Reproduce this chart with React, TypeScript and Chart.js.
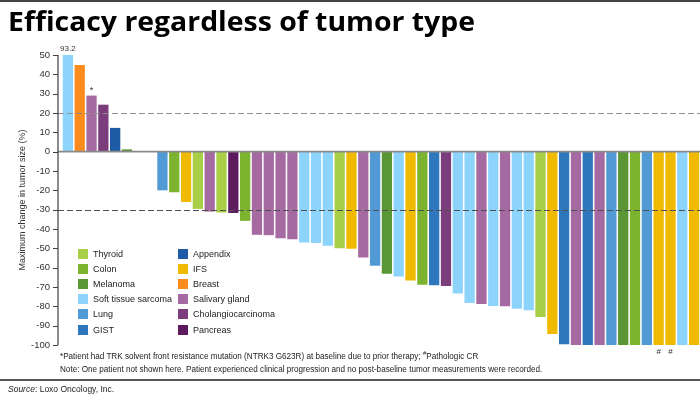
import React, { useEffect, useRef } from 'react';
import { Chart, registerables } from 'chart.js';

Chart.register(...registerables);

// ---- Data ----
const tumorTypes = [
  'Thyroid', 'Colon', 'Melanoma', 'Soft tissue sarcoma', 'Lung', 'GIST',
  'Appendix', 'IFS', 'Breast', 'Salivary gland', 'Cholangiocarcinoma', 'Pancreas',
];
const typeColors = [
  '#a8cf45', '#7db42f', '#5b9634', '#8dd4fc', '#519ad5', '#2f77bc',
  '#1d5ba6', '#f0ba00', '#fb8b1c', '#a66aa3', '#7b3d7c', '#5d1a5d',
];

// tumor type of each patient (null = empty slot)
const patientTypes: (string | null)[] = [
  'Soft tissue sarcoma', 'Breast', 'Salivary gland', 'Cholangiocarcinoma', 'Appendix', 'Melanoma',
  null, null,
  'Lung', 'Colon', 'IFS', 'Thyroid', 'Salivary gland', 'Thyroid', 'Pancreas', 'Colon',
  'Salivary gland', 'Salivary gland', 'Salivary gland', 'Salivary gland',
  'Soft tissue sarcoma', 'Soft tissue sarcoma', 'Soft tissue sarcoma', 'Thyroid', 'IFS',
  'Salivary gland', 'Lung', 'Melanoma', 'Soft tissue sarcoma', 'IFS', 'Colon', 'GIST',
  'Cholangiocarcinoma', 'Soft tissue sarcoma', 'Soft tissue sarcoma', 'Salivary gland',
  'Soft tissue sarcoma', 'Salivary gland', 'Soft tissue sarcoma', 'Soft tissue sarcoma',
  'Thyroid', 'IFS', 'GIST', 'Salivary gland', 'GIST', 'Salivary gland', 'Lung', 'Melanoma',
  'Colon', 'Lung', 'IFS', 'IFS', 'Soft tissue sarcoma', 'IFS',
];

// maximum change in tumor size (%)
const changes: (number | null)[] = [
  93.2, 44.8, 29, 24.3, 12.3, 1.2,
  null, null,
  -20, -21, -26, -29.6, -31, -31.5, -31.7, -35.8,
  -43, -43.2, -44.8, -45.3,
  -47, -47.2, -48.6, -50, -50.2,
  -54.8, -59, -63.1, -64.6, -66.7, -68.8, -69.1,
  -69.5, -73.3, -78.3, -78.8,
  -79.8, -80, -81.2, -82,
  -85.5, -94.3, -99.6, -100, -100, -100, -100, -100,
  -100, -100, -100, -100, -100, -100,
];

const yMin = -100;
const yMax = 50;
const yStep = 10;

const refLines = [20, -30];
const refColors = ['#8e8e8e', '#505050'];

const valueLabelIdx = [0];
const markIdx = [2, 50, 51];
const markText = ['*', '#', '#'];

const FONT = '"Liberation Sans", Arial, sans-serif';
const TITLE_WIDTH = 467;

const overlayPlugin = {
  id: 'overlay',
  afterDatasetsDraw(chart: any) {
    const { ctx, chartArea, scales } = chart;
    const y = scales.y;
    const axisX = chartArea.left - 4;
    const meta = chart.getDatasetMeta(0);
    ctx.save();

    // zero line
    const y0 = y.getPixelForValue(0);
    ctx.strokeStyle = '#8a8a8a';
    ctx.lineWidth = 1.6;
    ctx.beginPath();
    ctx.moveTo(axisX, y0);
    ctx.lineTo(chartArea.right, y0);
    ctx.stroke();

    // reference lines
    refLines.forEach((v, i) => {
      const py = Math.round(y.getPixelForValue(v)) + 0.5;
      ctx.strokeStyle = refColors[i];
      ctx.lineWidth = 1.2;
      ctx.setLineDash([6, 3]);
      ctx.beginPath();
      ctx.moveTo(axisX, py);
      ctx.lineTo(chartArea.right, py);
      ctx.stroke();
    });
    ctx.setLineDash([]);

    // y axis line + tick marks
    ctx.strokeStyle = '#404040';
    ctx.lineWidth = 1.2;
    ctx.beginPath();
    ctx.moveTo(axisX, chartArea.top);
    ctx.lineTo(axisX, chartArea.bottom);
    y.ticks.forEach((t: any) => {
      const py = Math.round(y.getPixelForValue(t.value)) + 0.5;
      ctx.moveTo(axisX - 5, py);
      ctx.lineTo(axisX, py);
    });
    ctx.stroke();

    // value labels
    ctx.fillStyle = '#333';
    ctx.textAlign = 'center';
    ctx.font = `8px ${FONT}`;
    valueLabelIdx.forEach((i) => {
      const el = meta.data[i];
      const top = Math.max(el.y, chartArea.top);
      ctx.textBaseline = 'bottom';
      ctx.fillText(String(changes[i]), el.x, top - 2);
    });

    // marks
    markIdx.forEach((i, k) => {
      const el = meta.data[i];
      const v = changes[i] as number;
      if (v >= 0) {
        ctx.font = `9px ${FONT}`;
        ctx.textBaseline = 'bottom';
        ctx.fillText(markText[k], el.x, Math.max(el.y, chartArea.top) - 1);
      } else {
        ctx.font = `8px ${FONT}`;
        ctx.textBaseline = 'top';
        ctx.fillText(markText[k], el.x, Math.min(el.y, chartArea.bottom) + 3);
      }
    });

    ctx.restore();
  },
};

function Legend() {
  const half = Math.ceil(tumorTypes.length / 2);
  const cols = [tumorTypes.slice(0, half), tumorTypes.slice(half)];
  return (
    <>
      {cols.map((col, c) => (
        <div
          key={c}
          style={{ position: 'absolute', left: c === 0 ? 78 : 178, top: 246 }}
        >
          {col.map((name) => (
            <div
              key={name}
              style={{ display: 'flex', alignItems: 'center', height: 15.2, whiteSpace: 'nowrap' }}
            >
              <span
                style={{
                  display: 'inline-block', width: 10, height: 10,
                  background: typeColors[tumorTypes.indexOf(name)], marginRight: 5,
                }}
              />
              <span style={{ font: `9px ${FONT}`, color: '#222' }}>{name}</span>
            </div>
          ))}
        </div>
      ))}
    </>
  );
}

export default function App() {
  const canvasRef = useRef<HTMLCanvasElement | null>(null);
  const titleRef = useRef<HTMLDivElement | null>(null);

  useEffect(() => {
    document.body.style.margin = '0';
    const t = titleRef.current;
    if (t) {
      t.style.transform = 'none';
      const w = t.getBoundingClientRect().width;
      if (w > 0) t.style.transform = `scaleX(${TITLE_WIDTH / w})`;
    }
    const canvas = canvasRef.current;
    if (!canvas) return;
    const colorOf = (tt: string | null) => (tt ? typeColors[tumorTypes.indexOf(tt)] : 'transparent');
    const chart = new Chart(canvas, {
      type: 'bar',
      data: {
        labels: changes.map((_, i) => String(i + 1)),
        datasets: [
          {
            data: changes,
            backgroundColor: patientTypes.map(colorOf),
            borderWidth: 0,
            barPercentage: 0.87,
            categoryPercentage: 1,
            clip: 0,
          } as any,
        ],
      },
      options: {
        responsive: false,
        animation: false,
        devicePixelRatio: 1,
        layout: { padding: { top: 55, bottom: 49, left: 0, right: 0 } },
        plugins: { legend: { display: false }, tooltip: { enabled: false }, title: { display: false } },
        scales: {
          x: { type: 'category', display: false, grid: { display: false } },
          y: {
            type: 'linear',
            min: yMin,
            max: yMax,
            ticks: { stepSize: yStep, color: '#333', font: { family: FONT, size: 9.5 }, padding: 12 },
            grid: { display: false, drawTicks: false },
            border: { display: false },
            title: {
              display: true,
              text: 'Maximum change in tumor size (%)',
              color: '#333',
              font: { family: FONT, size: 9 },
              padding: { top: 17, bottom: 0 },
            },
            afterFit: (s: any) => { s.width = 62; },
          },
        },
      },
      plugins: [overlayPlugin],
    });
    return () => chart.destroy();
  }, []);

  return (
    <div style={{ position: 'relative', width: 700, height: 394, overflow: 'hidden', background: '#fff' }}>
      <div style={{ position: 'absolute', left: 0, top: 0, width: 700, height: 1.5, background: '#444' }} />
      <canvas ref={canvasRef} width={700} height={394} style={{ position: 'absolute', left: 0, top: 0 }} />
      <div
        ref={titleRef}
        style={{
          position: 'absolute', left: 8, top: 6, font: `bold 26px "Open Sans", ${FONT}`,
          color: '#000', lineHeight: '30px', whiteSpace: 'nowrap', transformOrigin: '0 0',
        }}
      >
        Efficacy regardless of tumor type
      </div>
      <Legend />
      <div
        style={{
          position: 'absolute', left: 60, top: 350, font: `8.15px ${FONT}`, color: '#222',
          lineHeight: '13px', whiteSpace: 'nowrap',
        }}
      >
        <div>
          *Patient had TRK solvent front resistance mutation (NTRK3 G623R) at baseline due to prior therapy;{' '}
          <sup style={{ fontSize: 6, lineHeight: 0 }}>#</sup>Pathologic CR
        </div>
        <div>
          Note: One patient not shown here. Patient experienced clinical progression and no post-baseline tumor
          measurements were recorded.
        </div>
      </div>
      <div style={{ position: 'absolute', left: 0, top: 379, width: 700, height: 2, background: '#555' }} />
      <div
        style={{
          position: 'absolute', left: 8, top: 383, font: `8.5px ${FONT}`, color: '#222',
          lineHeight: '12px', whiteSpace: 'nowrap',
        }}
      >
        <i>Source</i>: Loxo Oncology, Inc.
      </div>
    </div>
  );
}
